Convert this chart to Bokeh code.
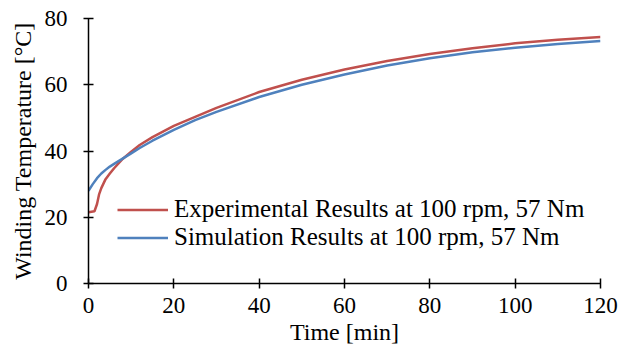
from bokeh.plotting import figure
from bokeh.models import Legend, LegendItem, FixedTicker
from bokeh.embed import file_html
from bokeh.resources import INLINE

# Data
t_exp = [0, 1.4, 2, 2.5, 3, 4, 5, 6, 8, 10, 12, 15, 20, 25, 30, 40, 50, 60, 70, 80, 90, 100, 110, 120]
T_exp = [21.5, 21.8, 24.0, 27.0, 28.8, 31.5, 33.2, 34.8, 37.6, 39.8, 41.8, 44.2, 47.6, 50.3, 53.0, 57.8, 61.5, 64.6, 67.2, 69.3, 71.0, 72.5, 73.6, 74.4]
t_sim = [0, 1, 2, 3, 4, 5, 6, 8, 10, 12, 15, 20, 25, 30, 40, 50, 60, 70, 80, 90, 100, 110, 120]
T_sim = [28.0, 30.0, 31.8, 33.2, 34.3, 35.3, 36.1, 37.7, 39.3, 40.9, 43.1, 46.4, 49.3, 51.8, 56.3, 60.0, 63.1, 65.8, 68.0, 69.8, 71.2, 72.3, 73.2]
x_ticks = [0, 20, 40, 60, 80, 100, 120]
y_ticks = [0, 20, 40, 60, 80]
labels = ["Experimental Results at 100 rpm, 57 Nm", "Simulation Results at 100 rpm, 57 Nm"]

FONT = "Liberation Serif"
FS_TICK = "23px"
FS = "24px"
FS_LEG = "25px"

p = figure(width=620, height=349, output_backend="svg", toolbar_location=None,
           x_range=(0, 120), y_range=(0, 80),
           min_border_left=88, min_border_right=20, min_border_top=18, min_border_bottom=66)
p.outline_line_color = None
p.xgrid.visible = False
p.ygrid.visible = False

r1 = p.line(t_exp, T_exp, line_color="#C0504D", line_width=2.5)
r2 = p.line(t_sim, T_sim, line_color="#4F81BD", line_width=2.5)

for ax in (p.xaxis[0], p.yaxis[0]):
    ax.axis_line_color = "black"
    ax.axis_line_width = 1.5
    ax.major_tick_line_color = "black"
    ax.major_tick_line_width = 1.5
    ax.major_tick_in = 5
    ax.major_tick_out = 5
    ax.minor_tick_line_color = None
    ax.major_label_text_font = FONT
    ax.major_label_text_font_size = FS_TICK
    ax.major_label_text_color = "black"
    ax.axis_label_text_font = FONT
    ax.axis_label_text_font_size = FS
    ax.axis_label_text_font_style = "normal"
    ax.axis_label_text_color = "black"

p.xaxis.ticker = FixedTicker(ticks=x_ticks)
p.yaxis.ticker = FixedTicker(ticks=y_ticks)
p.xaxis.axis_label = "Time [min]"
p.yaxis.axis_label = "Winding Temperature [°C]"
p.xaxis.major_label_standoff = 9
p.xaxis.axis_label_standoff = 3
p.yaxis.major_label_standoff = 16
p.yaxis.axis_label_standoff = 6

legend = Legend(items=[LegendItem(label=labels[0], renderers=[r1]),
                       LegendItem(label=labels[1], renderers=[r2])],
                location=(29, 32))
legend.background_fill_alpha = 0
legend.border_line_color = None
legend.padding = 0
legend.margin = 0
legend.spacing = 0
legend.glyph_width = 51
legend.glyph_height = 27
legend.label_height = 27
legend.label_standoff = 6
legend.label_text_font = FONT
legend.label_text_font_size = FS_LEG
legend.label_text_color = "black"
p.add_layout(legend)

open("out.html", "w").write(file_html(p, INLINE))
